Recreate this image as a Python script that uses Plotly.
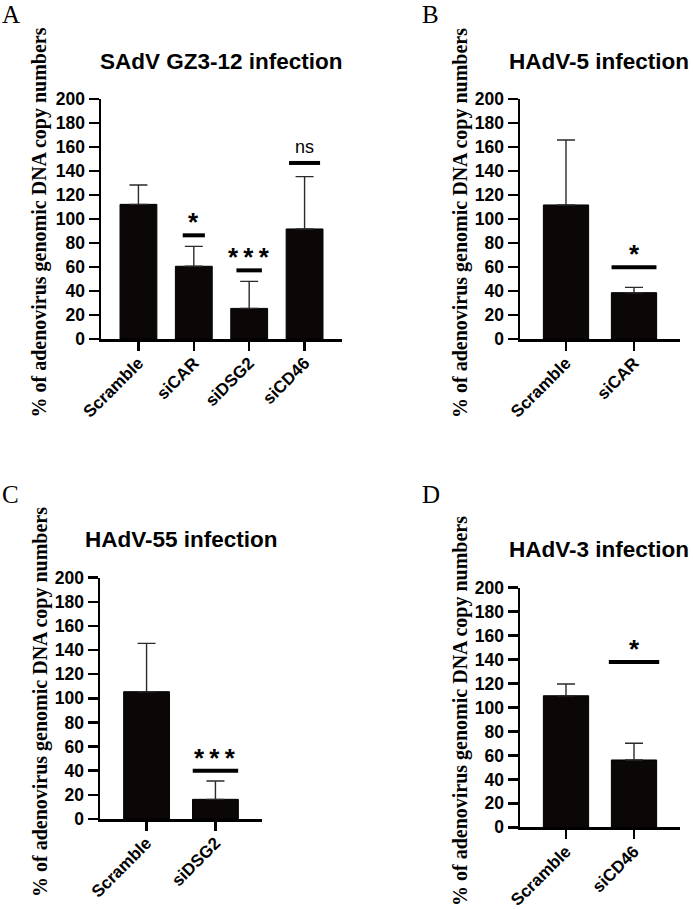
import plotly.graph_objects as go

W, H = 693, 910

# ---------------- data ----------------
a_cats = ["Scramble", "siCAR", "siDSG2", "siCD46"]
a_vals = [112.2, 60.6, 25.5, 91.7]
a_errs = [16.1, 16.6, 22.5, 43.6]
a_sig_y = [None, 86.4, 57.2, 146.7]
a_sig_txt = [None, "*", "***", "ns"]

b_cats = ["Scramble", "siCAR"]
b_vals = [111.7, 38.6]
b_errs = [54.1, 4.4]
b_sig_y = [None, 59.7]
b_sig_txt = [None, "*"]

c_cats = ["Scramble", "siDSG2"]
c_vals = [105.5, 16.3]
c_errs = [40.1, 15.2]
c_sig_y = [None, 40.0]
c_sig_txt = [None, "***"]

d_cats = ["Scramble", "siCD46"]
d_vals = [109.8, 56.2]
d_errs = [9.8, 13.9]
d_sig_y = [None, 138.0]
d_sig_txt = [None, "*"]

titles = ["SAdV GZ3-12 infection", "HAdV-5 infection", "HAdV-55 infection", "HAdV-3 infection"]
letters = ["A", "B", "C", "D"]
y_title = "% of adenovirus genomic DNA copy numbers"
y_ticks = [0, 20, 40, 60, 80, 100, 120, 140, 160, 180, 200]

# ---------------- layout geometry (pixels) ----------------
panels = [
    dict(cats=a_cats, vals=a_vals, errs=a_errs, sig_y=a_sig_y, sig_txt=a_sig_txt,
         px=(101, 342), py=(99, 339), sig_half=[0, 0.20, 0.23, 0.28], ytx=38.5, yty=223,
         tx=221, letter=(1, 0)),
    dict(cats=b_cats, vals=b_vals, errs=b_errs, sig_y=b_sig_y, sig_txt=b_sig_txt,
         px=(520, 680), py=(99, 339), sig_half=[0, 0.33], ytx=460, yty=223,
         tx=599, letter=(421, 0)),
    dict(cats=c_cats, vals=c_vals, errs=c_errs, sig_y=c_sig_y, sig_txt=c_sig_txt,
         px=(100, 262), py=(577.7, 819), sig_half=[0, 0.33], ytx=40, yty=702,
         tx=181, letter=(1, 480)),
    dict(cats=d_cats, vals=d_vals, errs=d_errs, sig_y=d_sig_y, sig_txt=d_sig_txt,
         px=(520, 680), py=(587.7, 827.3), sig_half=[0, 0.37], ytx=460, yty=711,
         tx=599, letter=(421, 480)),
]

fig = go.Figure()
shapes = []
annotations = []
ytickfont = dict(family="Liberation Sans, Arial", size=17.5, color="black", weight="bold")
xtickfont = dict(family="Liberation Sans, Arial", size=17, color="black", weight="bold")

for i, p in enumerate(panels):
    n = i + 1
    xa = "x" if n == 1 else f"x{n}"
    ya = "y" if n == 1 else f"y{n}"
    xkey = "xaxis" if n == 1 else f"xaxis{n}"
    ykey = "yaxis" if n == 1 else f"yaxis{n}"
    x0, x1 = p["px"][0] / W, p["px"][1] / W
    y0, y1 = 1 - p["py"][1] / H, 1 - p["py"][0] / H
    ncat = len(p["cats"])

    fig.add_trace(go.Bar(
        x=p["cats"], y=p["vals"], xaxis=xa, yaxis=ya, width=0.665,
        marker=dict(color="#0b0707", line=dict(color="black", width=1)),
        error_y=dict(type="data", array=p["errs"], arrayminus=[0] * ncat, symmetric=False,
                     color="#2a2a2a", thickness=1.4, width=9),
        showlegend=False, hoverinfo="skip",
    ))

    fig.layout[xkey] = dict(
        domain=[x0, x1], anchor=ya, range=[-0.676, ncat - 1 + 0.676], automargin=False,
        showline=True, linecolor="black", linewidth=2.5,
        ticks="outside", ticklen=9, tickwidth=2.5, tickcolor="black", ticklabelstandoff=-4,
        tickangle=-45, tickfont=xtickfont, showgrid=False, zeroline=False, fixedrange=True,
    )
    fig.layout[ykey] = dict(
        domain=[y0, y1], anchor=xa, range=[0, 200], tickvals=y_ticks, automargin=False,
        showline=True, linecolor="black", linewidth=2.5,
        ticks="outside", ticklen=10, tickwidth=2.5, tickcolor="black",
        tickfont=ytickfont, showgrid=False, zeroline=False, fixedrange=True,
    )

    # significance lines + marks
    for k, (sy, st) in enumerate(zip(p["sig_y"], p["sig_txt"])):
        if sy is None:
            continue
        hw = p["sig_half"][k]
        shapes.append(dict(type="line", xref=xa, yref=ya, x0=k - hw, x1=k + hw, y0=sy, y1=sy,
                           line=dict(color="black", width=4)))
        if st == "ns":
            annotations.append(dict(xref=xa, yref=ya, x=k, y=sy, text="ns", showarrow=False,
                                    yanchor="bottom", yshift=4,
                                    font=dict(family="Liberation Sans, Arial", size=18, color="black")))
        else:
            annotations.append(dict(xref=xa, yref=ya, x=k, y=sy, text="\u2009".join(st), showarrow=False,
                                    yanchor="bottom", yshift=-4,
                                    font=dict(family="Liberation Sans, Arial", size=26, color="black",
                                              weight="bold")))

    # panel title
    annotations.append(dict(xref="paper", yref="paper", x=p["tx"] / W, y=y1 + 38 / H,
                            text=titles[i], showarrow=False, xanchor="center", yanchor="middle",
                            font=dict(family="Liberation Sans, Arial", size=22.5, color="black",
                                      weight="bold")))
    # y-axis title
    annotations.append(dict(xref="paper", yref="paper", x=p["ytx"] / W, y=1 - p["yty"] / H,
                            text=y_title, showarrow=False, textangle=-90,
                            xanchor="center", yanchor="middle",
                            font=dict(family="Liberation Serif, Times New Roman", size=20,
                                      color="black", weight="bold")))
    # panel letter
    lx, ly = p["letter"]
    annotations.append(dict(xref="paper", yref="paper", x=lx / W, y=1 - ly / H,
                            text=letters[i], showarrow=False, xanchor="left", yanchor="top",
                            borderpad=0,
                            font=dict(family="Liberation Serif, Times New Roman", size=25, color="black")))

fig.update_layout(
    width=W, height=H, margin=dict(l=0, r=0, t=0, b=0, autoexpand=False),
    paper_bgcolor="white", plot_bgcolor="white",
    shapes=shapes, annotations=annotations, bargap=0.3,
)

fig.write_html(
    "out.html",
    config={"displayModeBar": False, "staticPlot": True},
    post_script="document.body.style.margin='0';document.body.style.overflow='hidden';",
)
